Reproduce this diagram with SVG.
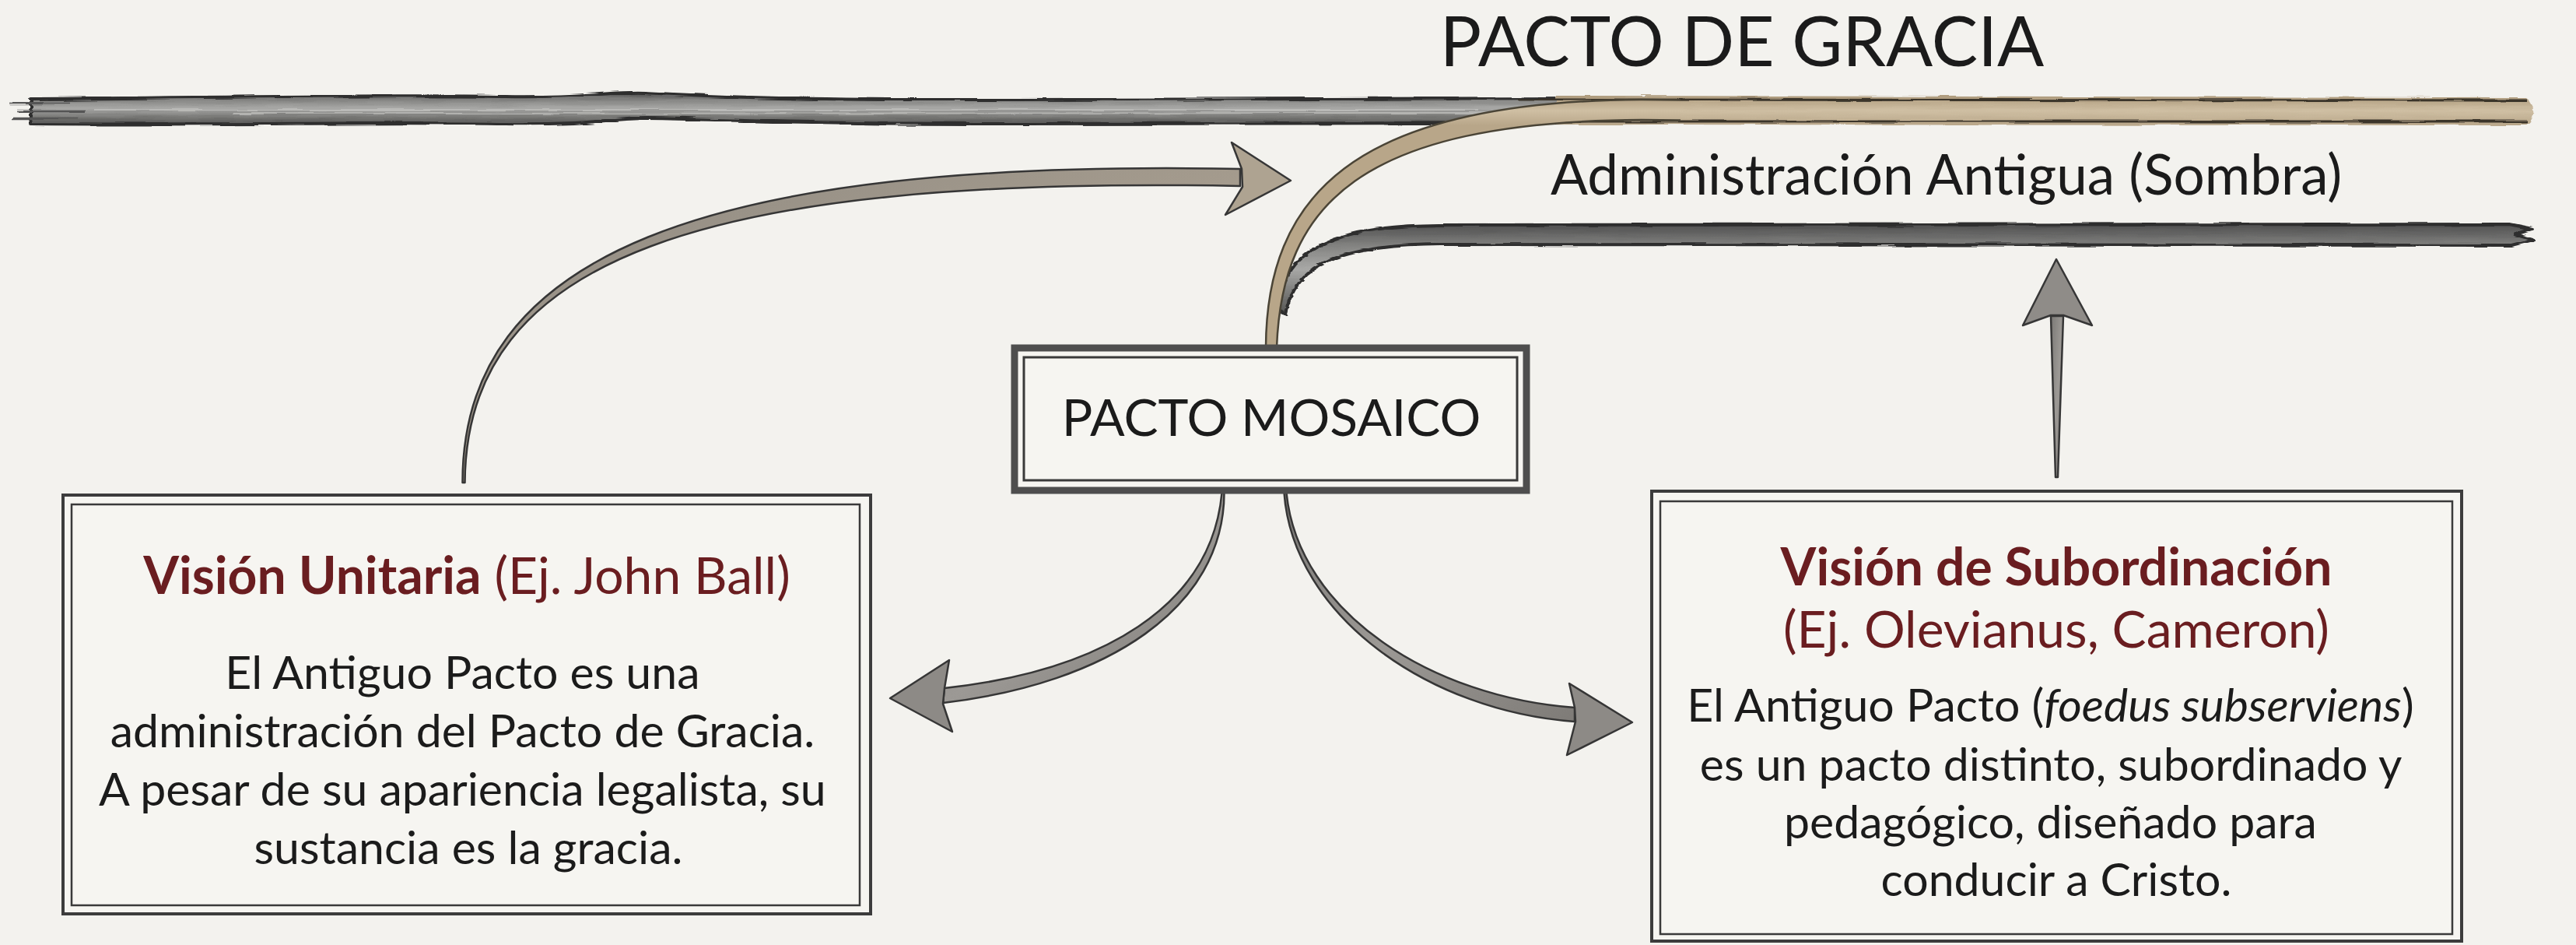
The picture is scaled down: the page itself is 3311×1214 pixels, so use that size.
<svg xmlns="http://www.w3.org/2000/svg" width="3311" height="1214" viewBox="0 0 3311 1214">
  <defs>
    <linearGradient id="grayBand" x1="0" y1="0" x2="0" y2="1">
      <stop offset="0" stop-color="#4e4e4e"/>
      <stop offset="0.25" stop-color="#858583"/>
      <stop offset="0.5" stop-color="#a8a8a6"/>
      <stop offset="0.75" stop-color="#7c7c7a"/>
      <stop offset="1" stop-color="#555553"/>
    </linearGradient>
    <linearGradient id="tanBand" gradientUnits="userSpaceOnUse" x1="0" y1="123" x2="0" y2="161">
      <stop offset="0" stop-color="#ad9a7c"/>
      <stop offset="0.5" stop-color="#cfbfa3"/>
      <stop offset="1" stop-color="#b8a689"/>
    </linearGradient>
    <linearGradient id="tanArrow" x1="0" y1="0" x2="1" y2="1">
      <stop offset="0" stop-color="#8f8a82"/>
      <stop offset="1" stop-color="#b8ab98"/>
    </linearGradient>
    <linearGradient id="grayArrow" x1="0" y1="0" x2="1" y2="1">
      <stop offset="0" stop-color="#7a7875"/>
      <stop offset="0.5" stop-color="#9c9995"/>
      <stop offset="1" stop-color="#7e7b77"/>
    </linearGradient>
    <filter id="rough" x="-2%" y="-30%" width="104%" height="160%">
      <feTurbulence type="fractalNoise" baseFrequency="0.015 0.25" numOctaves="2" seed="3" result="n"/>
      <feDisplacementMap in="SourceGraphic" in2="n" scale="5" xChannelSelector="R" yChannelSelector="G"/>
    </filter>
    <style>
      .txt { font-family: Lato, "Open Sans", "Liberation Sans", sans-serif; fill: #1b1b1b; }
      .title { font-family: Lato, "Open Sans", "Liberation Sans", sans-serif; fill: #6a1d20; }
      .edge { stroke: #363636; stroke-width: 2.5; stroke-linejoin: round; }
      .bandEdge { stroke: #2e2e2e; stroke-width: 4; stroke-linejoin: round; }
      .frameOuter { fill: #f6f5f1; stroke: #3c3c3c; stroke-width: 4; }
      .frameInner { fill: none; stroke: #3a3a3a; stroke-width: 2.5; }
      .fray { stroke: #555; stroke-width: 2.5; fill: none; }
      .streak { stroke: #c4c4c2; stroke-width: 2; fill: none; opacity: 0.7; }
    </style>
  </defs>

  <rect x="0" y="0" width="3311" height="1214" fill="#f3f2ee"/>

  <g id="title-pacto-gracia">
    <text class="txt" x="2239" y="85" font-size="89" text-anchor="middle">PACTO DE GRACIA</text>
  </g>

  <g id="connectors">
    <!-- Main covenant band (gray, left) -->
    <g filter="url(#rough)">
      <path d="M 40 127 C 300 125 500 121 650 124 C 750 126 790 117 830 119 C 900 123 1000 129 1300 128 L 2070 126 L 2070 158 L 1300 159 C 1000 160 900 152 830 152 C 790 152 750 161 650 159 C 500 156 300 161 40 159 Z" fill="url(#grayBand)" class="bandEdge"/>
      <path class="streak" d="M 120 141 C 500 138 900 139 1900 141 M 300 146 C 700 144 1200 147 1950 145"/>
      <path class="fray" d="M 12 133 L 90 133 M 22 143 L 110 143 M 16 152 L 100 152"/>
    </g>
    <!-- Tan band (right) -->
    <g filter="url(#rough)">
      <path d="M 2000 123 L 3245 125 C 3260 132 3260 155 3245 161 L 2000 160 Z" fill="url(#tanBand)"/>
      <path d="M 1950 128 L 3248 129 M 2000 156 L 3248 156" stroke="#3a352c" stroke-width="3" fill="none"/>
    </g>
    <!-- Gray branch: Administración Antigua -->
    <g filter="url(#rough)">
      <path d="M 1642 398 C 1648 320 1715 290 1850 289 L 3225 288 L 3255 294 L 3232 301 L 3256 308 L 3228 315 L 1850 314 C 1725 315 1664 338 1652 404 Z" fill="url(#grayBand)" class="bandEdge"/>
    </g>
    <!-- Tan curve from Pacto Mosaico up to the covenant band -->
    <path d="M 1627 446 C 1628 256 1734 130 2110 128 L 2160 128.5 L 2160 154.5 L 2110 154 C 1746 156 1648 264 1641 446 Z" fill="url(#tanBand)"/>
    <path d="M 1627 446 C 1628 256 1734 130 2110 128 L 2160 128.5 M 1641 446 C 1648 264 1746 156 2110 154 L 2160 154.5" fill="none" stroke="#4a4436" stroke-width="2.5"/>

    <!-- Left upper curved arrow (Unitaria -> Pacto de Gracia) -->
    <path d="M 594.5 620 C 594 329 898 204 1594 217 L 1594 239 C 902 226 599 331 597.5 620 Z" fill="url(#tanArrow)" class="edge"/>
    <path d="M 1659 232 L 1583 183 L 1596 217 L 1597 240 L 1575 276 Z" fill="#aea391" class="edge"/>

    <!-- Lower left arrow (Mosaico -> Unitaria) -->
    <path d="M 1570.5 633 C 1557 779 1416 862 1214 884 L 1212 903 C 1424 878 1573 781 1573.5 633 Z" fill="url(#grayArrow)" class="edge"/>
    <path d="M 1144 897 L 1220 848 L 1214 884 L 1212 904 L 1224 940 Z" fill="#8d8a86" class="edge"/>

    <!-- Lower right arrow (Mosaico -> Subordinación) -->
    <path d="M 1650.5 633 C 1662 792 1838 914 2024 927 L 2024 909 C 1842 896 1669 788 1653.5 633 Z" fill="url(#grayArrow)" class="edge"/>
    <path d="M 2098 928 L 2017 878 L 2024 909 L 2025 927 L 2014 970 Z" fill="#8d8a86" class="edge"/>

    <!-- Up arrow (Subordinación -> Administración Antigua) -->
    <path d="M 2642 613 L 2636 406 L 2652 406 L 2645 613 Z" fill="url(#grayArrow)" class="edge"/>
    <path d="M 2643 333 L 2689 418 L 2652 405 L 2636 405 L 2600 418 Z" fill="#8f8c88" class="edge"/>
  </g>

  <g id="label-administracion">
    <text class="txt" x="1993" y="250" font-size="71">Administración Antigua (Sombra)</text>
  </g>

  <g id="node-pacto-mosaico">
    <rect x="1304" y="447" width="658" height="183" fill="#f6f5f1" stroke="#4e4e4e" stroke-width="9"/>
    <rect x="1316" y="459" width="634" height="158" fill="none" stroke="#3a3a3a" stroke-width="3"/>
    <text class="txt" x="1634" y="560" font-size="66" text-anchor="middle">PACTO MOSAICO</text>
  </g>

  <g id="node-vision-unitaria">
    <rect class="frameOuter" x="81" y="636" width="1038" height="538"/>
    <rect class="frameInner" x="92" y="648" width="1013" height="515"/>
    <text class="title" x="600" y="763" font-size="66" text-anchor="middle"><tspan font-weight="bold">Visión Unitaria</tspan> (Ej. John Ball)</text>
    <text class="txt" font-size="59" text-anchor="middle">
      <tspan x="602" y="885">El Antiguo Pacto es una</tspan>
      <tspan x="602" y="960">administración del Pacto de Gracia.</tspan>
      <tspan x="602" y="1035">A pesar de su apariencia legalista, su</tspan>
      <tspan x="602" y="1110">sustancia es la gracia.</tspan>
    </text>
  </g>

  <g id="node-vision-subordinacion">
    <rect class="frameOuter" x="2123" y="631" width="1041" height="578"/>
    <rect class="frameInner" x="2134" y="644" width="1018" height="556"/>
    <text class="title" x="2643" y="752" font-size="66" font-weight="bold" text-anchor="middle">Visión de Subordinación</text>
    <text class="title" x="2643" y="832" font-size="66" text-anchor="middle">(Ej. Olevianus, Cameron)</text>
    <text class="txt" font-size="59" text-anchor="middle">
      <tspan x="2643" y="927">El Antiguo Pacto (<tspan font-style="italic">foedus subserviens</tspan>)</tspan>
      <tspan x="2643" y="1003">es un pacto distinto, subordinado y</tspan>
      <tspan x="2643" y="1077">pedagógico, diseñado para</tspan>
      <tspan x="2643" y="1151">conducir a Cristo.</tspan>
    </text>
  </g>
</svg>
